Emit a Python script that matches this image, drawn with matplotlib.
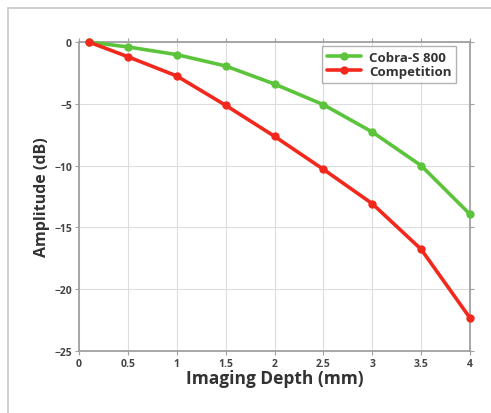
import numpy as np
import matplotlib
matplotlib.use("Agg")
import matplotlib.pyplot as plt
from matplotlib.patches import Rectangle

# Data ----
depth = [0.1, 0.5, 1.0, 1.5, 2.0, 2.5, 3.0, 3.5, 4.0]
cobra = [0.0, -0.4, -1.02, -1.94, -3.4, -5.07, -7.28, -10.0, -13.94]
competition = [0.0, -1.19, -2.75, -5.12, -7.63, -10.3, -13.08, -16.77, -22.33]

x_ticks = [0, 0.5, 1, 1.5, 2, 2.5, 3, 3.5, 4]
x_tick_labels = ["0", "0.5", "1", "1.5", "2", "2.5", "3", "3.5", "4"]
y_ticks = [0, -5, -10, -15, -20, -25]

plt.rcParams['font.family'] = ['Open Sans', 'DejaVu Sans']

fig = plt.figure(figsize=(4.91, 4.14), dpi=100)
fig.patch.set_facecolor('white')

# light gray outer frame (top + left edges visible)
fig.add_artist(Rectangle((8 / 491, -0.1), 1.2, (414 - 9) / 414 + 0.1,
                         transform=fig.transFigure, fill=False,
                         edgecolor='#c8c8c8', linewidth=1.2))

ax = fig.add_axes([79 / 491, 62 / 414, (470 - 79) / 491, (352 - 43) / 414])

ax.plot(depth, cobra, color='#5cc43a', lw=2.6, marker='o', ms=5,
        label='Cobra-S 800', solid_capstyle='round', clip_on=False, zorder=3)
ax.plot(depth, competition, color='#f2281c', lw=2.6, marker='o', ms=5,
        label='Competition', solid_capstyle='round', clip_on=False, zorder=3)

ax.set_xlim(0, 4)
ax.set_ylim(-25, 0)
ax.set_xticks(x_ticks)
ax.set_xticklabels(x_tick_labels)
ax.set_yticks(y_ticks)

ax.grid(True, color='#dddddd', lw=0.8)
ax.set_axisbelow(True)
for s in ax.spines.values():
    s.set_color('#a0a0a0')
    s.set_linewidth(1.3)

ax.tick_params(axis='both', which='both', direction='out', length=3,
               color='#a0a0a0', labelsize=7.5, labelcolor='#444444',
               top=True, right=True, pad=2)
for lbl in ax.get_xticklabels() + ax.get_yticklabels():
    lbl.set_fontweight('bold')

ax.set_xlabel('Imaging Depth (mm)', fontsize=12.5, fontweight='bold',
              color='#333333', labelpad=0)
ax.set_ylabel('Amplitude (dB)', fontsize=11.5, fontweight='bold',
              color='#333333', labelpad=3)

leg = ax.legend(loc='upper right', bbox_to_anchor=(0.965, 0.987),
                fontsize=9.5, frameon=True, fancybox=False,
                borderaxespad=0, handlelength=2.6, borderpad=0.35,
                labelspacing=0.1, handletextpad=0.6)
leg.get_frame().set_edgecolor('#a0a0a0')
leg.get_frame().set_linewidth(1.0)
for t in leg.get_texts():
    t.set_fontweight('bold')
    t.set_color('#333333')

fig.savefig('out.png', dpi=100)
